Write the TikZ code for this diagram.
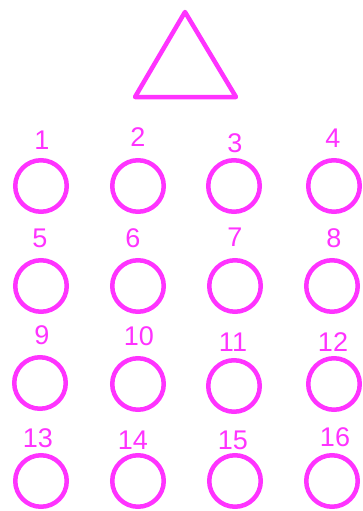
\documentclass[tikz,border=0pt]{standalone}
\usepackage{fontspec}
\setmainfont{Liberation Sans}
\usepackage{tikz}
\usetikzlibrary{positioning}

\definecolor{magenta1}{RGB}{255,51,255}

\begin{document}
\begin{tikzpicture}[
    x=1pt, y=-1pt,
    circulo/.style={
        draw=magenta1,
        circle,
        line width=4.5pt,
        minimum size=51.5pt,
        inner sep=0pt
    },
    numero/.style={
        text=magenta1,
        inner sep=0pt,
        font=\fontsize{27}{27}\selectfont
    },
    triangulo/.style={draw=magenta1,line width=4.5pt,line join=round}
]
\useasboundingbox (0,0) rectangle (363,511);

\draw[triangulo] (185,12) -- (135,97) -- (236,97) -- cycle;

% fila 1
\node[circulo] (c1) at (41,186) {};
\node[circulo] (c2) at (138,186) {};
\node[circulo] (c3) at (234,186) {};
\node[circulo] (c4) at (334,186) {};
\node[numero] (n1) at (42,140) {1};
\node[numero] (n2) at (138,137) {2};
\node[numero] (n3) at (235,143) {3};
\node[numero] (n4) at (333,138) {4};

% fila 2
\node[circulo] (c5) at (41,286) {};
\node[circulo] (c6) at (138,286) {};
\node[circulo] (c7) at (235,286) {};
\node[circulo] (c8) at (332,286) {};
\node[numero] (n5) at (40,238) {5};
\node[numero] (n6) at (133,238) {6};
\node[numero] (n7) at (235,237) {7};
\node[numero] (n8) at (334,238) {8};

% fila 3
\node[circulo] (c9) at (40,383) {};
\node[circulo] (c10) at (138,384) {};
\node[circulo] (c11) at (234,386) {};
\node[circulo] (c12) at (334,384) {};
\node[numero] (n9) at (42,335) {9};
\node[numero] (n10) at (139,336) {10};
\node[numero] (n11) at (233,342) {11};
\node[numero] (n12) at (333,342) {12};

% fila 4
\node[circulo] (c13) at (41,481) {};
\node[circulo] (c14) at (138,481) {};
\node[circulo] (c15) at (235,481) {};
\node[circulo] (c16) at (332,481) {};
\node[numero] (n13) at (38,438) {13};
\node[numero] (n14) at (133,440) {14};
\node[numero] (n15) at (233,440) {15};
\node[numero] (n16) at (335,437) {16};

\end{tikzpicture}
\end{document}
